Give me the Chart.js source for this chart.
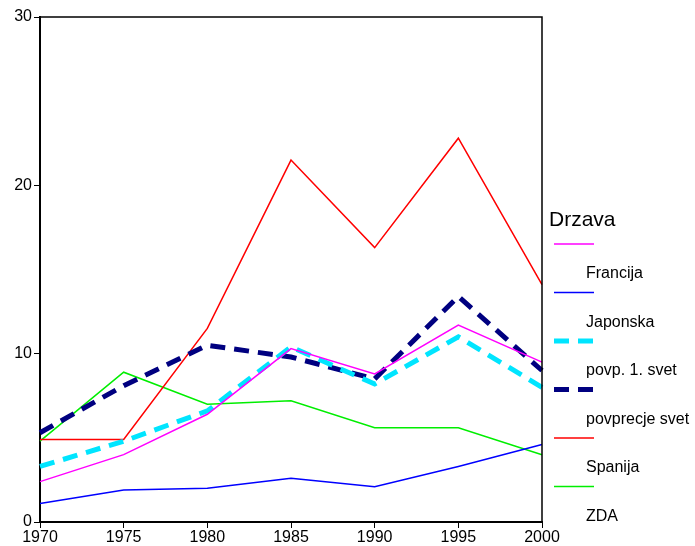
<!DOCTYPE html>
<html>
<head>
<meta charset="utf-8">
<script src="https://cdn.jsdelivr.net/npm/chart.js@4"></script>
<style>
  body { margin: 0; background: #fff; }
  #wrap { width: 695px; height: 546px; }
</style>
</head>
<body>
<div id="wrap"><canvas id="myChart" width="695" height="546"></canvas></div>
<script>
// years on the x axis
const years = ['1970', '1975', '1980', '1985', '1990', '1995', '2000'];
const yTicks = [0, 10, 20, 30];

// unemployment values
const francija = [2.4, 4.0, 6.4, 10.3, 8.8, 11.7, 9.5];
const japonska = [1.1, 1.9, 2.0, 2.6, 2.1, 3.3, 4.6];
const povp1svet = [3.3, 4.8, 6.6, 10.4, 8.2, 11.0, 8.0];
const povprecjeSvet = [5.3, 8.1, 10.5, 9.8, 8.5, 13.4, 9.0];
const spanija = [4.9, 4.9, 11.5, 21.5, 16.3, 22.8, 14.1];
const zda = [4.8, 8.9, 7.0, 7.2, 5.6, 5.6, 4.0];

const FONT = 'Arial, "Liberation Sans", sans-serif';

// legend on the right: title, then each line sample above its label
const sideLegend = {
    id: 'sideLegend',
    afterDraw(chart) {
        const ctx = chart.ctx;
        const a = chart.chartArea;
        ctx.save();
        // frame top + right
        ctx.strokeStyle = '#000';
        ctx.lineWidth = 1.5;
        ctx.beginPath();
        ctx.moveTo(a.left, a.top);
        ctx.lineTo(a.right, a.top);
        ctx.lineTo(a.right, a.bottom);
        ctx.stroke();

        ctx.fillStyle = '#000';
        ctx.textBaseline = 'middle';
        ctx.font = '21px ' + FONT;
        ctx.fillText('Drzava', 549, 220);

        ctx.font = '16px ' + FONT;
        chart.data.datasets.forEach((ds, i) => {
            const ly = 244 + i * 48.5;
            ctx.strokeStyle = ds.borderColor;
            ctx.lineWidth = ds.borderWidth;
            ctx.setLineDash(ds.borderDash || []);
            ctx.beginPath();
            ctx.moveTo(554, ly);
            ctx.lineTo(594, ly);
            ctx.stroke();
            ctx.setLineDash([]);
            ctx.fillText(ds.label, 586, ly + 30);
        });
        ctx.restore();
    }
};

const ctx = document.getElementById('myChart');
const myChart = new Chart(ctx, {
    type: 'line',
    data: {
        labels: years,
        datasets: [
            { label: 'Francija', data: francija, borderColor: '#ff00ff', borderWidth: 1.5 },
            { label: 'Japonska', data: japonska, borderColor: '#0000ff', borderWidth: 1.5 },
            { label: 'povp. 1. svet', data: povp1svet, borderColor: '#00e5ff', borderWidth: 5, borderDash: [15, 9] },
            { label: 'povprecje svet', data: povprecjeSvet, borderColor: '#000080', borderWidth: 5, borderDash: [15, 9] },
            { label: 'Spanija', data: spanija, borderColor: '#ff0000', borderWidth: 1.5 },
            { label: 'ZDA', data: zda, borderColor: '#00ee00', borderWidth: 1.5 }
        ]
    },
    options: {
        responsive: false,
        animation: false,
        layout: { padding: { top: 17, right: 153, left: 0, bottom: 0 } },
        elements: { point: { radius: 0 }, line: { tension: 0 } },
        plugins: { legend: { display: false }, tooltip: { enabled: false } },
        scales: {
            x: {
                offset: false,
                grid: { drawOnChartArea: false, drawTicks: true, tickLength: 6, color: '#000' },
                border: { color: '#000', width: 2 },
                ticks: { color: '#000', font: { size: 16, family: FONT }, padding: 0, maxRotation: 0 },
                afterFit(scale) { scale.height = 24; }
            },
            y: {
                min: 0,
                max: 30,
                afterBuildTicks(scale) { scale.ticks = yTicks.map(v => ({ value: v })); },
                grid: { drawOnChartArea: false, drawTicks: true, tickLength: 6, color: '#000' },
                border: { color: '#000', width: 2 },
                ticks: { color: '#000', font: { size: 16, family: FONT }, padding: 2 },
                afterFit(scale) { scale.width = 40; }
            }
        }
    },
    plugins: [sideLegend]
});
</script>
</body>
</html>
